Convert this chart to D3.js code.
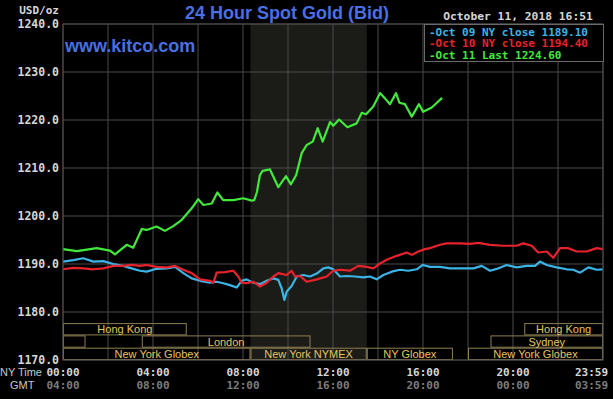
<!DOCTYPE html>
<html>
<head>
<meta charset="utf-8">
<script src="https://cdn.jsdelivr.net/npm/d3@7"></script>
<style>
    body { margin: 0; background: #000; }
    svg { display: block; }
</style>
</head>
<body>
<svg id="chart" width="613" height="399"></svg>
<script>
// price axis
const yTicks = [1170, 1180, 1190, 1200, 1210, 1220, 1230, 1240];

// time axis (hours from NY midnight)
const tickHours = [0, 4, 8, 12, 16, 20, 24];
const nyLabels = ["00:00", "04:00", "08:00", "12:00", "16:00", "20:00", "23:59"];
const gmtLabels = ["04:00", "08:00", "12:00", "16:00", "20:00", "00:00", "03:59"];
const gridHours = [0, 2, 4, 6, 8, 10, 12, 14, 16, 18, 20, 22, 24];
const nymexHours = [8 + 20 / 60, 13.5];

// [hour, price]
const oct09 = [
    [0, 1190.5], [0.46, 1190.8], [0.9, 1191.2], [1.35, 1190.5], [1.79, 1190.6], [2.24, 1190.0],
    [2.68, 1189.6], [3.05, 1189.1], [3.42, 1188.6], [3.72, 1188.4], [4.16, 1189.0], [4.61, 1189.1],
    [4.98, 1189.4], [5.35, 1188.1], [5.72, 1187.0], [6.09, 1186.5], [6.53, 1186.1], [6.83, 1186.3],
    [7.12, 1186.0], [7.42, 1185.6], [7.72, 1185.1], [7.94, 1186.5], [8.16, 1186.8], [8.46, 1186.1],
    [8.76, 1185.8], [9.05, 1186.5], [9.35, 1187.0], [9.57, 1186.7], [9.72, 1184.9], [9.84, 1182.5],
    [9.94, 1184.2], [10.16, 1185.4], [10.39, 1187.4], [10.68, 1187.7], [10.98, 1187.4], [11.28, 1188.0],
    [11.57, 1189.1], [11.79, 1189.3], [12.01, 1188.9], [12.31, 1187.4], [12.61, 1187.5], [12.98, 1187.4],
    [13.35, 1187.2], [13.64, 1187.4], [13.94, 1186.8], [14.24, 1187.7], [14.61, 1188.4], [14.98, 1188.8],
    [15.35, 1188.6], [15.72, 1188.9], [15.99, 1189.8], [16.31, 1189.4], [16.76, 1189.4], [17.2, 1189.1],
    [17.79, 1189.1], [18.24, 1189.1], [18.61, 1189.6], [18.98, 1188.6], [19.35, 1189.1], [19.72, 1189.8],
    [20.16, 1189.3], [20.61, 1189.6], [20.98, 1189.6], [21.2, 1190.5], [21.5, 1189.8], [21.94, 1189.3],
    [22.39, 1188.9], [22.68, 1188.8], [22.98, 1188.2], [23.35, 1189.3], [23.72, 1188.8], [23.99, 1188.9]
];

const oct10 = [
    [0, 1188.9], [0.46, 1189.2], [0.9, 1189.1], [1.35, 1188.9], [1.79, 1189.1], [2.24, 1189.6],
    [2.68, 1189.6], [3.05, 1189.8], [3.42, 1189.6], [3.72, 1189.8], [4.16, 1189.4], [4.61, 1189.3],
    [4.98, 1189.6], [5.35, 1188.8], [5.72, 1188.1], [6.09, 1186.8], [6.53, 1186.5], [6.68, 1186.1],
    [6.83, 1188.2], [7.2, 1188.3], [7.57, 1188.6], [7.79, 1187.4], [7.94, 1186.1], [8.16, 1186.0],
    [8.46, 1186.3], [8.76, 1185.3], [9.05, 1186.1], [9.35, 1187.4], [9.57, 1188.1], [9.94, 1187.7],
    [10.16, 1188.6], [10.31, 1187.4], [10.53, 1187.5], [10.83, 1186.3], [11.28, 1186.8], [11.72, 1187.4],
    [12.01, 1188.6], [12.31, 1188.8], [12.76, 1188.6], [13.12, 1189.6], [13.5, 1189.4], [13.79, 1189.1],
    [14.09, 1190.1], [14.39, 1190.9], [14.83, 1191.7], [15.28, 1192.4], [15.5, 1191.9], [15.79, 1192.6],
    [16.09, 1193.1], [16.31, 1193.3], [16.76, 1194.0], [17.05, 1194.3], [17.64, 1194.3], [18.09, 1194.2],
    [18.46, 1194.4], [18.98, 1194.0], [19.57, 1193.8], [20.16, 1193.8], [20.46, 1194.3], [20.83, 1193.8],
    [21.12, 1192.4], [21.5, 1192.6], [21.79, 1191.3], [22.09, 1193.3], [22.46, 1193.3], [22.83, 1192.6],
    [23.27, 1192.6], [23.72, 1193.3], [23.99, 1193.1]
];

const oct11 = [
    [0, 1193.1], [0.61, 1192.7], [1.5, 1193.3], [2.09, 1192.8], [2.31, 1192.0], [2.83, 1194.0],
    [3.12, 1193.4], [3.5, 1197.3], [3.72, 1197.1], [4.16, 1197.8], [4.53, 1196.9], [4.9, 1197.9],
    [5.28, 1199.2], [5.72, 1201.6], [6.01, 1203.5], [6.24, 1202.3], [6.61, 1202.6], [6.86, 1204.9],
    [7.12, 1203.3], [7.57, 1203.3], [8.01, 1203.7], [8.39, 1203.2], [8.5, 1203.3], [8.62, 1205.0],
    [8.75, 1208.5], [8.87, 1209.4], [9.2, 1209.7], [9.57, 1206.0], [9.91, 1208.3], [10.13, 1206.6],
    [10.36, 1208.5], [10.61, 1213.1], [10.83, 1214.8], [11.1, 1215.5], [11.32, 1218.3], [11.54, 1215.5],
    [11.87, 1219.6], [12.01, 1218.8], [12.27, 1220.1], [12.64, 1218.5], [13.05, 1219.3], [13.28, 1221.5],
    [13.47, 1221.2], [13.79, 1222.8], [14.09, 1225.6], [14.31, 1224.5], [14.53, 1223.3], [14.8, 1225.6],
    [14.95, 1223.6], [15.2, 1223.3], [15.5, 1220.7], [15.82, 1223.3], [16.01, 1221.7], [16.39, 1222.6],
    [16.85, 1224.6]
];

const seriesNames = ["Oct 09 NY close 1189.10", "Oct 10 NY close 1194.40", "Oct 11 Last 1224.60"];
const seriesColors = ["#3bb4e6", "#e8222c", "#42e83c"];

// market sessions: row 0 top, row 2 bottom
const sessionNames = ["Hong Kong", "Hong Kong", "", "London", "Sydney",
    "New York Globex", "New York NYMEX", "NY Globex", "New York Globex"];
const sessionStart = [0, 20.5, 0, 3.5, 19, 0, 8 + 20 / 60, 13.5, 18];
const sessionEnd = [5.5, 24, 1, 11, 24, 8 + 20 / 60, 13.5, 17.33, 24];
const sessionRow = [0, 0, 1, 1, 1, 2, 2, 2, 2];

const titleText = "24 Hour Spot Gold (Bid)";
const dateText = "October 11, 2018 16:51";

const ctx = {
    left: 63, right: 603, top: 24, bottom: 360,
    mono: "'DejaVu Sans Mono', monospace",
    sans: "'Liberation Sans', Arial, sans-serif",
    grid: "#4a4a4a"
};

function drawChart() {
    let svg = d3.select("#chart");

    let x = d3.scaleLinear().domain([0, 24]).range([ctx.left, ctx.right]);
    let y = d3.scaleLinear().domain([1170, 1240]).range([ctx.bottom, ctx.top]);

    /* NYMEX shading */
    svg.append("rect")
        .attr("x", x(nymexHours[0]))
        .attr("y", ctx.top)
        .attr("width", x(nymexHours[1]) - x(nymexHours[0]))
        .attr("height", ctx.bottom - ctx.top)
        .style("fill", "#1b1b17");

    /* grid */
    svg.append("g").selectAll("line")
        .data(gridHours)
        .enter().append("line")
        .attr("x1", d => x(d)).attr("x2", d => x(d))
        .attr("y1", ctx.top).attr("y2", ctx.bottom)
        .style("stroke", ctx.grid);

    svg.append("g").selectAll("line")
        .data(yTicks)
        .enter().append("line")
        .attr("x1", ctx.left).attr("x2", ctx.right)
        .attr("y1", d => y(d)).attr("y2", d => y(d))
        .style("stroke", ctx.grid);

    /* y axis labels */
    let yAxis = svg.append("g")
        .attr("transform", `translate(${ctx.left},0)`)
        .call(d3.axisLeft(y).tickValues(yTicks).tickFormat(d3.format(".1f")).tickSize(0).tickPadding(4));
    yAxis.select(".domain").remove();
    yAxis.selectAll("text")
        .style("font-family", ctx.mono)
        .style("font-size", "11.5px")
        .style("font-weight", "bold")
        .style("fill", "#d6d6d6");

    svg.append("text")
        .text("USD/oz")
        .attr("x", ctx.left - 4).attr("y", 14)
        .attr("text-anchor", "end")
        .style("font-family", ctx.mono)
        .style("font-size", "11px")
        .style("font-weight", "bold")
        .style("fill", "#d6d6d6");

    /* market sessions */
    let rowH = 12.3;
    let sessions = sessionNames.map((name, i) => ({
        name, start: sessionStart[i], end: sessionEnd[i], row: sessionRow[i]
    }));
    let sessG = svg.append("g");
    sessG.selectAll("rect")
        .data(sessions)
        .enter().append("rect")
        .attr("x", d => x(d.start) + 0.5)
        .attr("width", d => x(d.end) - x(d.start) - 1)
        .attr("y", d => ctx.bottom - (3 - d.row) * rowH + 0.5)
        .attr("height", rowH - 1)
        .style("fill", "none")
        .style("stroke", "#8e7e52");
    sessG.selectAll("text")
        .data(sessions)
        .enter().append("text")
        .text(d => d.name)
        .attr("x", d => (x(d.start) + x(d.end)) / 2)
        .attr("y", d => ctx.bottom - (2.5 - d.row) * rowH + 4)
        .attr("text-anchor", "middle")
        .style("font-family", ctx.sans)
        .style("font-size", "11px")
        .style("fill", "#e6c462");

    /* lines */
    let line = d3.line().x(d => x(d[0])).y(d => y(d[1]));
    svg.append("g").selectAll("path")
        .data([oct09, oct10, oct11])
        .enter().append("path")
        .attr("d", line)
        .style("fill", "none")
        .style("stroke", (d, i) => seriesColors[i])
        .style("stroke-width", 2.2)
        .style("stroke-linejoin", "round");

    /* plot frame */
    svg.append("rect")
        .attr("x", ctx.left).attr("y", ctx.top)
        .attr("width", ctx.right - ctx.left).attr("height", ctx.bottom - ctx.top)
        .style("fill", "none")
        .style("stroke", ctx.grid);

    /* time labels */
    let labelX = h => Math.min(x(h), 613 - 21.5);
    svg.append("g").selectAll("text")
        .data(tickHours)
        .enter().append("text")
        .text((d, i) => nyLabels[i])
        .attr("x", labelX).attr("y", 376)
        .attr("text-anchor", "middle")
        .style("font-family", ctx.mono)
        .style("font-size", "11px")
        .style("font-weight", "bold")
        .style("fill", "#d6d6d6");
    svg.append("g").selectAll("text")
        .data(tickHours)
        .enter().append("text")
        .text((d, i) => gmtLabels[i])
        .attr("x", labelX).attr("y", 389)
        .attr("text-anchor", "middle")
        .style("font-family", ctx.mono)
        .style("font-size", "11px")
        .style("font-weight", "bold")
        .style("fill", "#7c7c7c");
    svg.append("text").text("NY Time")
        .attr("x", 0).attr("y", 376)
        .style("font-family", ctx.sans).style("font-size", "11px")
        .style("fill", "#c8c8c8");
    svg.append("text").text("GMT")
        .attr("x", 10).attr("y", 389)
        .style("font-family", ctx.sans).style("font-size", "11px")
        .style("fill", "#c8c8c8");

    /* titles */
    svg.append("text")
        .text(titleText)
        .attr("x", 287).attr("y", 19)
        .attr("text-anchor", "middle")
        .style("font-family", ctx.sans)
        .style("font-size", "18px")
        .style("font-weight", "bold")
        .style("fill", "#4a6fe3");
    svg.append("text")
        .text("www.kitco.com")
        .attr("x", 65).attr("y", 52)
        .style("font-family", ctx.sans)
        .style("font-size", "18px")
        .style("font-weight", "bold")
        .style("fill", "#4a6fe3");

    /* legend */
    svg.append("text")
        .text(dateText)
        .attr("x", 518).attr("y", 20)
        .attr("text-anchor", "middle")
        .style("font-family", ctx.mono)
        .style("font-size", "11.3px")
        .style("font-weight", "bold")
        .style("fill", "#d6d6d6");
    let legG = svg.append("g");
    legG.append("rect")
        .attr("x", 424.5).attr("y", 24.5)
        .attr("width", 179).attr("height", 37)
        .style("fill", "#000")
        .style("stroke", "#6a6a6a");
    legG.selectAll("text")
        .data(seriesNames)
        .enter().append("text")
        .text(d => "-" + d)
        .attr("x", 429)
        .attr("y", (d, i) => 35.5 + i * 11.7)
        .style("font-family", ctx.mono)
        .style("font-size", "11px")
        .style("font-weight", "bold")
        .style("fill", (d, i) => seriesColors[i]);
}

drawChart();
</script>
</body>
</html>
